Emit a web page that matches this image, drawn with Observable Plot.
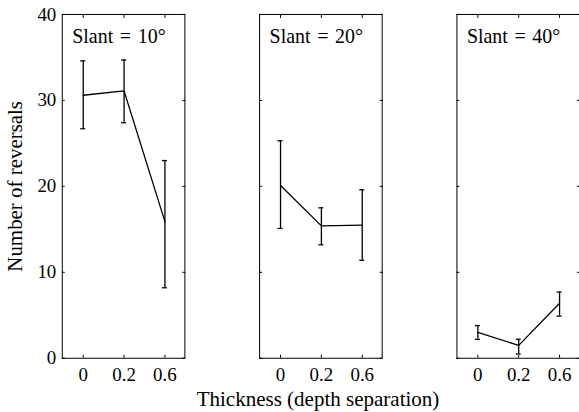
<!DOCTYPE html>
<html>
<head>
<meta charset="utf-8">
<script src="https://cdn.jsdelivr.net/npm/d3@7"></script>
<script src="https://cdn.jsdelivr.net/npm/@observablehq/plot@0.6"></script>
<style>
  html, body { margin: 0; padding: 0; background: white; overflow: hidden; }
  #chart { width: 579px; height: 389px; overflow: hidden; }
  #chart svg, #chart svg text { font-family: "Liberation Serif", "Times New Roman", serif !important; }
  #xlabel { width: 579px; position: relative; height: 23px; font-family: "Liberation Serif", serif; font-size: 21px; line-height: 21px; }
  #xlabel span { position: absolute; left: 318px; transform: translateX(-50%); white-space: nowrap; }
  g[aria-label="y-axis label"] text { font-size: 21px; }
</style>
</head>
<body>
<div id="chart"></div>
<div id="xlabel"><span>Thickness (depth separation)</span></div>
<script>
// Data
const slants = ["10", "20", "40"];
const thickness = ["0", "0.2", "0.6"];
const mean10 = [30.6, 31.1, 15.9];
const low10  = [26.7, 27.4, 8.2];
const high10 = [34.6, 34.7, 23.0];
const mean20 = [20.1, 15.4, 15.5];
const low20  = [15.1, 13.2, 11.4];
const high20 = [25.3, 17.5, 19.6];
const mean40 = [3.0, 1.5, 6.4];
const low40  = [2.2, 0.5, 4.9];
const high40 = [3.8, 2.2, 7.7];
const yTicks = [0, 10, 20, 30, 40];

const series = {"10": [mean10, low10, high10], "20": [mean20, low20, high20], "40": [mean40, low40, high40]};
const rows = [];
for (const s of slants) {
  const [m, lo, hi] = series[s];
  thickness.forEach((t, i) => rows.push({slant: s, t, mean: m[i], lo: lo[i], hi: hi[i]}));
}

const chart = Plot.plot({
  width: 581,
  height: 389,
  marginLeft: 61,
  marginRight: 0,
  marginTop: 14,
  marginBottom: 30,
  style: {fontFamily: "'Liberation Serif', serif", fontSize: "19px", background: "white", color: "black", overflow: "visible"},
  fx: {domain: slants, paddingInner: 0.38, paddingOuter: 0, axis: null},
  x: {domain: thickness, type: "point", padding: 0.5},
  y: {domain: [0, 40]},
  marks: [
    Plot.frame({stroke: "black", strokeWidth: 1}),
    Plot.axisY({ticks: yTicks, tickSize: 0, tickPadding: 6, label: "Number of reversals", labelAnchor: "center", labelArrow: "none", labelOffset: 55}),
    Plot.axisY({anchor: "left", ticks: yTicks, tickSize: 3, dx: 3, tickFormat: () => "", label: null, facetAnchor: null}),
    Plot.axisY({anchor: "right", ticks: yTicks, tickSize: 3, dx: -3, tickFormat: () => "", label: null, facetAnchor: null}),
    Plot.axisX({anchor: "bottom", tickSize: 0, tickPadding: 9, label: null}),
    Plot.axisX({anchor: "bottom", tickSize: 3, dy: -3, tickFormat: () => "", label: null, facetAnchor: null}),
    Plot.axisX({anchor: "top", tickSize: 3, dy: 3, tickFormat: () => "", label: null, facetAnchor: null}),
    Plot.ruleX(rows, {fx: "slant", x: "t", y1: "lo", y2: "hi", stroke: "black", strokeWidth: 1.3}),
    Plot.ruleY(rows, {fx: "slant", x1: "t", x2: "t", y: "lo", stroke: "black", strokeWidth: 1.3, insetLeft: -2.5, insetRight: -2.5}),
    Plot.ruleY(rows, {fx: "slant", x1: "t", x2: "t", y: "hi", stroke: "black", strokeWidth: 1.3, insetLeft: -2.5, insetRight: -2.5}),
    Plot.line(rows, {fx: "slant", x: "t", y: "mean", z: "slant", stroke: "black", strokeWidth: 1.3}),
    Plot.text(slants, {fx: d => d, text: d => `Slant\u2004=\u2004${d}°`, frameAnchor: "top-left", lineAnchor: "top", dx: 10, dy: 14, fontSize: 20})
  ]
});
document.getElementById("chart").appendChild(chart);
</script>
</body>
</html>
